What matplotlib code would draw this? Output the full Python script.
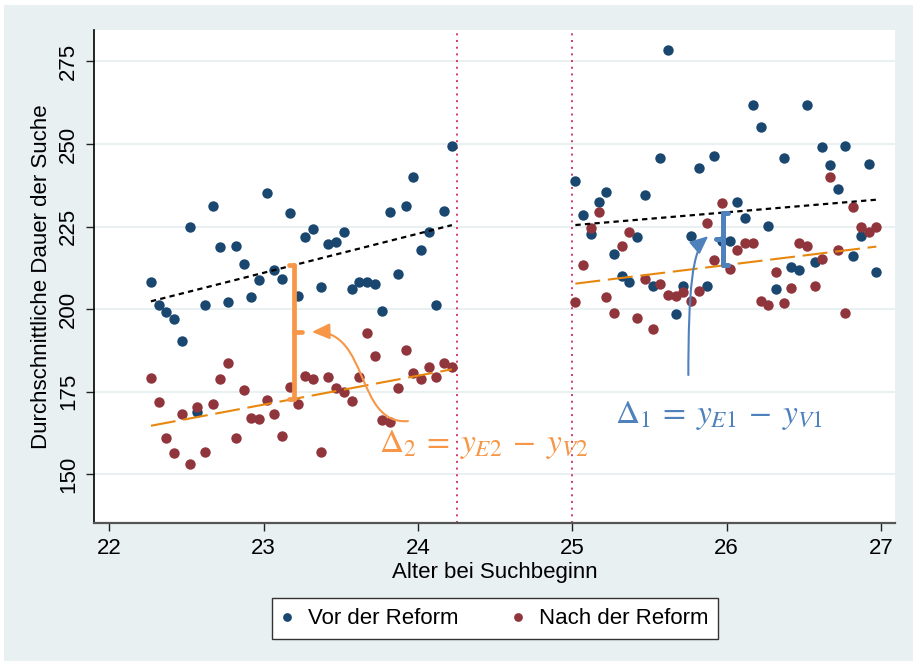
"""Durchschnittliche Suchdauer nach Alter bei Suchbeginn, vor/nach der Reform."""

import numpy as np
import matplotlib

matplotlib.use("Agg")
import matplotlib.pyplot as plt  # noqa: E402
from matplotlib.lines import Line2D  # noqa: E402
from matplotlib.patches import FancyArrowPatch, Rectangle  # noqa: E402
from matplotlib.path import Path  # noqa: E402

plt.rcParams["font.family"] = ["Liberation Sans", "DejaVu Sans"]
plt.rcParams["mathtext.fontset"] = "stix"

# --- data ----------------------------------------------------------------
age_left = [22.27, 22.32, 22.37, 22.42, 22.47, 22.52, 22.57, 22.62, 22.67, 22.72,
            22.77, 22.82, 22.87, 22.92, 22.97, 23.02, 23.07, 23.12, 23.17, 23.22,
            23.27, 23.32, 23.37, 23.42, 23.47, 23.52, 23.57, 23.62, 23.67, 23.72,
            23.77, 23.82, 23.87, 23.92, 23.97, 24.02, 24.07, 24.12, 24.17, 24.22]
vor_left = [208.2, 201.3, 199.2, 196.9, 190.3, 224.8, 168.9, 201.2, 231.3, 218.8,
            202.1, 219.1, 213.7, 203.6, 208.8, 235.2, 211.9, 209.2, 229.0, 204.1,
            221.7, 224.2, 206.8, 219.7, 220.2, 223.2, 206.2, 208.3, 208.3, 207.5,
            199.5, 229.3, 210.6, 231.1, 240.0, 217.9, 223.5, 201.2, 229.6, 249.5]
nach_left = [179.2, 172.0, 160.9, 156.5, 168.2, 153.0, 170.3, 156.7, 171.2, 178.8,
             183.8, 160.9, 175.4, 166.9, 166.6, 172.5, 168.2, 161.7, 176.3, 171.3,
             179.8, 178.8, 156.7, 179.4, 176.0, 174.8, 172.1, 179.4, 192.8, 185.7,
             166.3, 165.9, 176.0, 187.6, 180.8, 178.9, 182.5, 179.5, 183.6, 182.5]

age_right = [25.02, 25.07, 25.12, 25.17, 25.22, 25.27, 25.32, 25.37, 25.42, 25.47,
             25.52, 25.57, 25.62, 25.67, 25.72, 25.77, 25.82, 25.87, 25.92, 25.97,
             26.02, 26.07, 26.12, 26.17, 26.22, 26.27, 26.32, 26.37, 26.42, 26.47,
             26.52, 26.57, 26.62, 26.67, 26.72, 26.77, 26.82, 26.87, 26.92, 26.97]
vor_right = [238.9, 228.4, 222.7, 232.5, 235.4, 216.7, 210.0, 208.1, 221.8, 234.6,
             207.1, 245.7, 278.3, 198.4, 207.1, 222.1, 242.8, 207.1, 246.5, 220.5,
             220.7, 232.3, 227.7, 261.9, 255.0, 225.1, 206.2, 245.7, 212.7, 211.9,
             261.9, 214.3, 249.0, 243.6, 236.4, 249.3, 216.1, 222.0, 243.9, 211.3]
nach_right = [202.2, 213.3, 224.5, 229.5, 203.8, 198.9, 219.1, 223.5, 197.2, 209.0,
              194.0, 207.6, 204.3, 204.1, 205.3, 202.5, 205.6, 226.0, 214.9, 232.0,
              212.1, 217.9, 219.9, 220.1, 202.5, 201.3, 211.2, 201.9, 206.5, 220.1,
              219.1, 206.9, 215.2, 240.1, 217.9, 198.9, 231.0, 224.9, 223.4, 224.9]

cutoffs = [24.25, 25.0]
x_ticks = [22, 23, 24, 25, 26, 27]
y_ticks = [150, 175, 200, 225, 250, 275]
labels = ["Vor der Reform", "Nach der Reform"]

# --- style -----------------------------------------------------------------
BG = "#e8f0f2"
NAVY = "#1a476f"
MAROON = "#90353b"
FIT_ORANGE = "#e8870e"
ANN_ORANGE = "#f79646"
ANN_BLUE = "#4f81bd"
CUTOFF = "#d42a5c"

fig = plt.figure(figsize=(9.13, 6.65), dpi=100)
fig.patch.set_facecolor("white")
fig.patches.append(Rectangle((4 / 913, 4 / 665), 909 / 913, 656 / 665,
                             transform=fig.transFigure, facecolor=BG,
                             edgecolor="none", zorder=-10))

ax = fig.add_axes([94.3 / 913, (665 - 522.7) / 665, (895 - 94.3) / 913, (522.7 - 30) / 665])
ax.set_facecolor("white")
ax.set_xlim(21.903, 27.091)
ax.set_ylim(135.35, 284.5)
ax.set_xticks(x_ticks)
ax.set_yticks(y_ticks)
ax.yaxis.grid(True, color=BG, linewidth=1.4)
ax.set_axisbelow(True)
for side in ("top", "right"):
    ax.spines[side].set_visible(False)
ax.spines["left"].set_color("black")
ax.spines["left"].set_linewidth(1.2)
ax.spines["bottom"].set_color("#555555")
ax.spines["bottom"].set_linewidth(1.6)
ax.tick_params(which="both", direction="out", length=6, width=1,
               colors="#222222", labelsize=16, labelcolor="black", pad=5)
ax.tick_params(axis="y", labelrotation=90)
for lab in ax.get_yticklabels():
    lab.set_va("center")

ax.set_xlabel("Alter bei Suchbeginn", fontsize=16, labelpad=2)
ax.set_ylabel("Durchschnittliche Dauer der Suche", fontsize=16, labelpad=4)

# cutoffs
for c in cutoffs:
    ax.axvline(c, color=CUTOFF, linewidth=1.3, linestyle=(0, (1.1, 2.6)), zorder=1.5)

# scatter + linear fits
fits = {}
for key, ages, vor, nach in (("left", age_left, vor_left, nach_left),
                             ("right", age_right, vor_right, nach_right)):
    ax.plot(ages, vor, "o", ms=7.5, color=NAVY, mec="none", zorder=2)
    ax.plot(ages, nach, "o", ms=7.5, color=MAROON, mec="none", zorder=2)
    cv = np.polyfit(ages, vor, 1)
    cn = np.polyfit(ages, nach, 1)
    fits[key] = (cv, cn)
    ends = [ages[0], ages[-1]]
    ax.plot(ends, np.polyval(cv, ends), color="black", linewidth=1.6,
            linestyle=(0, (2.4, 1.9)), zorder=3)
    ax.plot(ends, np.polyval(cn, ends), color=FIT_ORANGE, linewidth=1.5,
            linestyle=(0, (12, 3.7)), zorder=3)


def brace(x, coefs, side, color, lw):
    """Curly brace between the two fit lines at age x; side=+1 -> '}', -1 -> '{'."""
    top = np.polyval(coefs[0], x)
    bot = np.polyval(coefs[1], x)
    mid = (top + bot) / 2
    hook, nub = 0.03, 0.05
    kw = dict(color=color, linewidth=lw, solid_capstyle="round", zorder=4)
    ax.plot([x, x], [bot, top], **kw)
    ax.plot([x, x - side * hook], [top, top], **kw)
    ax.plot([x, x - side * hook], [bot, bot], **kw)
    ax.plot([x, x + side * nub], [mid, mid], **kw)


def curved_arrow(pts, color):
    path = Path(pts, [Path.MOVETO, Path.CURVE4, Path.CURVE4, Path.CURVE4])
    ax.add_patch(FancyArrowPatch(path=path, arrowstyle="-|>,head_length=0.9,head_width=0.4",
                                 mutation_scale=12, color=color, linewidth=1.5, zorder=4))


brace(23.197, fits["left"], +1, ANN_ORANGE, 3.4)
brace(25.978, fits["right"], -1, ANN_BLUE, 3.6)
curved_arrow([(23.935, 166.1), (23.592, 164.9), (23.689, 193.7), (23.313, 193.1)], ANN_ORANGE)
curved_arrow([(25.752, 180.06), (25.753, 205.8), (25.776, 217.9), (25.881, 222.1)], ANN_BLUE)

ax.text(23.745, 156.8, r"$\Delta_2\:=\:{y_{E2}}\;\,{-}\;\,{y_{V2}}$", color=ANN_ORANGE,
        fontsize=24, ha="left", va="baseline", zorder=5)
ax.text(25.275, 165.6, r"$\Delta_1\:=\:{y_{E1}}\;\,{-}\;\,{y_{V1}}$", color=ANN_BLUE,
        fontsize=24, ha="left", va="baseline", zorder=5)

handles = [Line2D([], [], marker="o", ls="none", color=NAVY, ms=6.3, mec="none"),
           Line2D([], [], marker="o", ls="none", color=MAROON, ms=6.3, mec="none")]
leg = fig.legend(handles, labels, loc="center", bbox_to_anchor=(495 / 913, 1 - 618.8 / 665),
                 ncol=2, frameon=True, fancybox=False, fontsize=16, handlelength=0.5,
                 handletextpad=0.7, columnspacing=2.4, borderpad=0.45,
                 edgecolor="#333333", facecolor="white", framealpha=1)
leg.get_frame().set_linewidth(1.0)

fig.savefig("out.png", dpi=100, facecolor=fig.get_facecolor())
